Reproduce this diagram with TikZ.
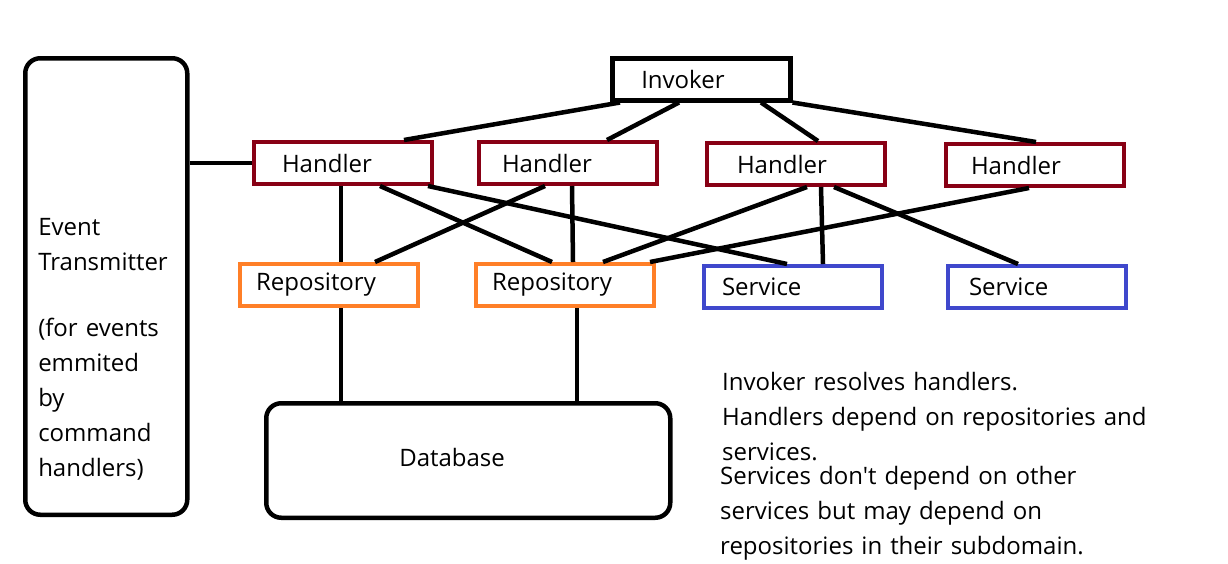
\documentclass[tikz,border=0pt]{standalone}
\usepackage{fontspec}
\setmainfont{Open Sans}[Ligatures=TeXOff]

\begin{document}
\begin{tikzpicture}[x=1pt,y=1pt,yscale=-1,
  every node/.style={font=\fontsize{24}{35}\selectfont},
  box/.style={draw, line width=4pt, minimum height=42pt, anchor=north west, align=left, inner ysep=0pt},
  invbox/.style={box, line width=4.5pt},
  handlerbox/.style={box, draw={rgb, 255:red, 136; green, 0; blue, 21 }},
  repobox/.style={box, draw={rgb, 255:red, 255; green, 127; blue, 39 }},
  servicebox/.style={box, draw={rgb, 255:red, 63; green, 72; blue, 204 }},
  roundbox/.style={draw, line width=4.5pt, rounded corners=15pt, anchor=north west, align=left, inner ysep=0pt},
  notetext/.style={anchor=base west, align=left, inner sep=0pt, text width=440pt},
  link/.style={line width=4.5pt}]
\useasboundingbox (0,0) rectangle (1228,563);

% Event Transmitter
\node [roundbox, text width=136pt, inner xsep=13pt, text height=176.75pt, text depth=279.75pt] (ev) at (23,56) {Event\\Transmitter\\[31pt](for events\\emmited\\by\\command\\handlers)};
% Invoker
\node [invbox, text width=120pt, inner xsep=29pt] (inv) at (610,56) {Invoker};
% Handlers
\node [handlerbox, text width=122pt, inner xsep=28pt] (h1) at (252,140) {Handler};
\node [handlerbox, text width=132pt, inner xsep=23pt] (h2) at (477,140) {Handler};
\node [handlerbox, text width=118pt, inner xsep=30pt] (h3) at (705,141) {Handler};
\node [handlerbox, text width=128pt, inner xsep=25pt] (h4) at (944,142) {Handler};
% Repositories and services
\node [repobox, text width=146pt, inner xsep=16pt] (r1) at (238,262) {Repository};
\node [repobox, text width=146pt, inner xsep=16pt] (r2) at (474,262) {Repository};
\node [servicebox, text width=142pt, inner xsep=18pt] (s1) at (702,264) {Service};
\node [servicebox, text width=136pt, inner xsep=21pt] (s2) at (946,264) {Service};
% Database
\node [roundbox, minimum height=114.5pt, text width=138pt, inner xsep=133pt, text depth=7pt] (db) at (264,401) {Database};

% Text Node
\node [notetext] (note1) at (722,390) {Invoker resolves handlers.\\Handlers depend on repositories and\\services.};
% Text Node
\node [notetext] (note2) at (720,484) {Services don't depend on other\\services but may depend on\\repositories in their subdomain.};

% Invoker to handlers
\draw [link] ([xshift=10pt]inv.south west) -- ([xshift=152pt]h1.north west);
\draw [link] ([xshift=69pt]inv.south west) -- ([xshift=130pt]h2.north west);
\draw [link] ([xshift=151pt]inv.south west) -- ([xshift=113pt]h3.north west);
\draw [link] (inv.south east) -- ([xshift=92pt]h4.north west);
% Event Transmitter to handler
\draw [link] (h1.west -| ev.east) -- (h1.west);
% Handlers to repositories and services
\draw [link] ([xshift=89pt]h1.south west) -- ([xshift=103pt]r1.north west);
\draw [link] ([xshift=128pt]h1.south west) -- ([xshift=78pt]r2.north west);
\draw [link] ([xshift=176pt]h1.south west) -- ([xshift=85pt]s1.north west);
\draw [link] ([xshift=68pt]h2.south west) -- ([xshift=137pt]r1.north west);
\draw [link] ([xshift=95pt]h2.south west) -- ([xshift=99pt]r2.north west);
\draw [link] ([xshift=102pt]h3.south west) -- ([xshift=129pt]r2.north west);
\draw [link] ([xshift=116pt]h3.south west) -- ([xshift=121pt]s1.north west);
\draw [link] ([xshift=129pt]h3.south west) -- ([xshift=72pt]s2.north west);
\draw [link] ([xshift=85pt]h4.south west) -- ([xshift=176pt]r2.north west);
% Repositories to database
\draw [link] ([xshift=103pt]r1.south west) -- ([xshift=77pt]db.north west);
\draw [link] ([xshift=103pt]r2.south west) -- ([xshift=313pt]db.north west);

\end{tikzpicture}
\end{document}
